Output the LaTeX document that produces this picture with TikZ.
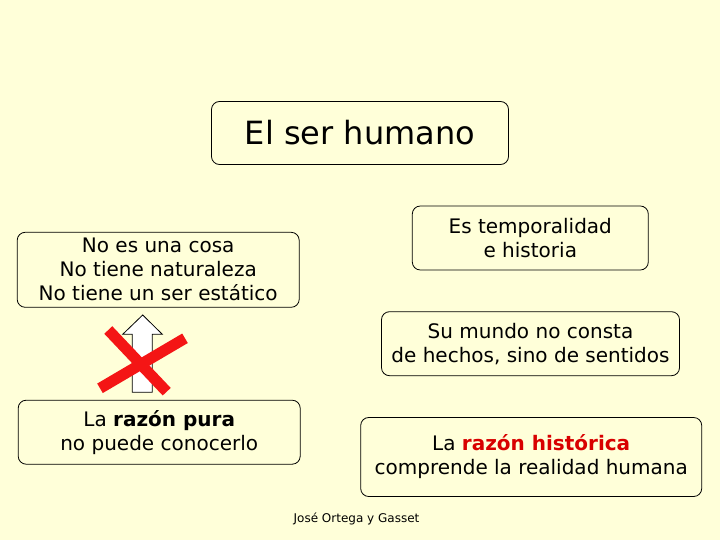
\documentclass[tikz,border=0pt]{standalone}
\usepackage{fontspec}
\setmainfont{DejaVu Sans}
\definecolor{fondo}{HTML}{FFFFD9}
\definecolor{rojo}{HTML}{D80000}
\definecolor{cruzrojo}{HTML}{F41515}

\tikzset{
  caja/.style={draw, rounded corners=8pt, line width=0.8pt, fill=fondo, align=center, inner sep=0pt, font=\fontsize{20}{24}\selectfont},
  flecha/.style={draw, fill=white, line width=0.8pt},
  cruz/.style={draw=cruzrojo, line width=11pt}
}

\begin{document}
\begin{tikzpicture}[x=1pt, y=-1pt]
\fill[fondo] (0,0) rectangle (720,540);
\useasboundingbox (0,0) rectangle (720,540);

\node[caja, minimum width=297pt, minimum height=63pt, font=\fontsize{32}{38}\selectfont] (ser) at (360,133) {El ser humano};

\node[caja, minimum width=282pt, minimum height=75pt] (cosa) at (158.2,269.8) {No es una cosa\\No tiene naturaleza\\No tiene un ser estático};
\node[caja, minimum width=282pt, minimum height=64pt] (pura) at (159.2,432.2) {La \textbf{razón pura}\\no puede conocerlo};

\node[caja, minimum width=236pt, minimum height=64pt] (tiempo) at (530.3,238) {Es temporalidad\\e historia};
\node[caja, minimum width=298pt, minimum height=64pt] (mundo) at (530.5,343.7) {Su mundo no consta\\de hechos, sino de sentidos};
\node[caja, minimum width=341pt, minimum height=79pt] (historica) at (531.2,457) {La \textcolor{rojo}{\textbf{razón histórica}}\\comprende la realidad humana};

\node[font=\fontsize{12}{14}\selectfont] (autor) at (356.5,519) {José Ortega y Gasset};

% flecha tachada
\draw[flecha] (132.3,392.3) -- (132.3,334.3) -- (122.7,334.3) -- (142.7,315) -- (162.3,334.3) -- (152.3,334.3) -- (152.3,392.3) -- cycle;
\draw[cruz] (108.3,330) -- (166.7,391.7);
\draw[cruz] (185,338.3) -- (100,388.3);

\end{tikzpicture}
\end{document}
